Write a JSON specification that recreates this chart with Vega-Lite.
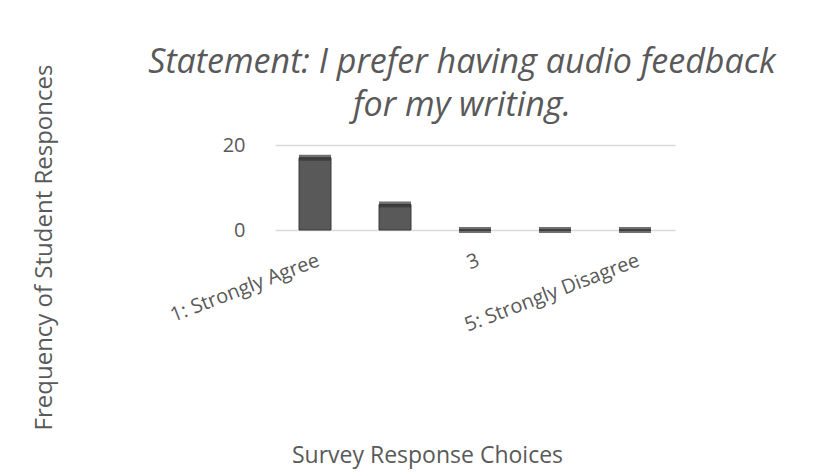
{
  "$schema": "https://vega.github.io/schema/vega-lite/v6.json",
  "autosize": "none",
  "width": 400,
  "height": 85,
  "padding": {"left": 275, "right": 155, "top": 145, "bottom": 245},
  "background": "white",
  "config": {"view": {"stroke": null}, "font": "Open Sans"},
  "title": {
    "text": ["Statement: I prefer having audio feedback", "for my writing."],
    "fontSize": 34,
    "fontStyle": "italic",
    "fontWeight": "normal",
    "font": "Open Sans",
    "color": "#595959",
    "anchor": "middle",
    "frame": "group",
    "dx": -13,
    "lineHeight": 43,
    "offset": 0,
    "dy": 59
  },
  "data": {
    "values": [
      {"choice": "1: Strongly Agree", "count": 17},
      {"choice": "2", "count": 6},
      {"choice": "3", "count": 0},
      {"choice": "4", "count": 0},
      {"choice": "5: Strongly Disagree", "count": 0}
    ]
  },
  "encoding": {
    "x": {
      "field": "choice",
      "type": "ordinal",
      "sort": null,
      "scale": {"paddingInner": 0.6, "paddingOuter": 0.3},
      "axis": {
        "title": "Survey Response Choices",
        "titleFont": "Open Sans",
        "titleFontSize": 23,
        "titleFontWeight": "normal",
        "titleColor": "#595959",
        "titleX": 152,
        "titleY": 225,
        "titleBaseline": "middle",
        "labelExpr": "datum.value == '2' || datum.value == '4' ? '' : datum.value",
        "labelAngle": -21,
        "labelAlign": "right",
        "labelBaseline": "top",
        "labelFontSize": 20,
        "labelColor": "#595959",
        "labelPadding": 20,
        "labelLimit": 400,
        "labelOverlap": false,
        "domain": false,
        "ticks": false,
        "grid": false
      }
    },
    "y": {
      "field": "count",
      "type": "quantitative",
      "scale": {"domain": [0, 20], "nice": false},
      "axis": {
        "title": "Frequency of Student Responces",
        "titleFont": "Open Sans",
        "titleFontSize": 24,
        "titleFontWeight": "normal",
        "titleColor": "#595959",
        "titleX": -231,
        "titleY": 102,
        "titleAlign": "center",
        "titleBaseline": "middle",
        "values": [0, 20],
        "labelFontSize": 20,
        "labelColor": "#595959",
        "labelPadding": 30,
        "domain": false,
        "ticks": false,
        "grid": true,
        "gridColor": "#d9d9d9",
        "gridWidth": 1.5
      }
    }
  },
  "layer": [
    {"mark": {"type": "bar", "color": "#595959", "size": 32, "stroke": "#3a3a3a", "strokeWidth": 1}},
    {"mark": {"type": "tick", "color": "#333333", "size": 32, "thickness": 6}}
  ]
}
